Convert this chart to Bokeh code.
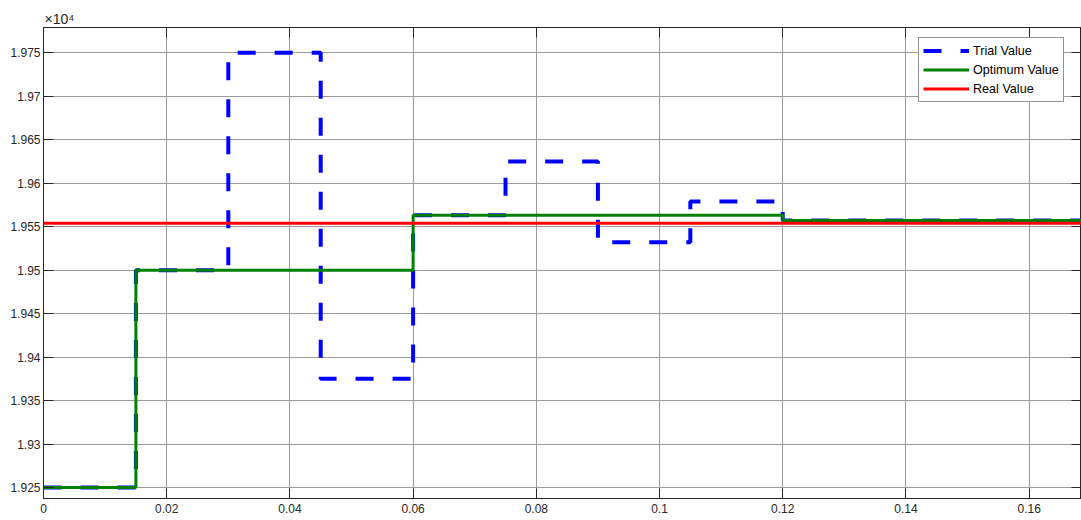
from bokeh.plotting import figure
from bokeh.models import Range1d, LinearAxis, FixedTicker, Legend, LegendItem
from bokeh.embed import file_html
from bokeh.resources import INLINE

# ---- data ----
trial_t = [0, 0.015, 0.03, 0.045, 0.06, 0.075, 0.09, 0.105, 0.12, 0.17]
trial_value = [19250, 19500, 19750, 19375, 19563, 19625, 19532, 19579, 19557, 19557]
optimum_t = [0, 0.015, 0.06, 0.12, 0.17]
optimum_value = [19250, 19500, 19563, 19557, 19557]
real_t = [0, 0.17]
real_value = [19554, 19554]

x_ticks = [0, 0.02, 0.04, 0.06, 0.08, 0.1, 0.12, 0.14, 0.16]
x_tick_labels = ["0", "0.02", "0.04", "0.06", "0.08", "0.1", "0.12", "0.14", "0.16"]
y_ticks = [19250, 19300, 19350, 19400, 19450, 19500, 19550, 19600, 19650, 19700, 19750]
y_tick_labels = ["1.925", "1.93", "1.935", "1.94", "1.945", "1.95", "1.955",
                 "1.96", "1.965", "1.97", "1.975"]

FONT = "Liberation Sans"
AXC = "#262626"

p = figure(width=1081, height=520, output_backend="svg", toolbar_location=None,
           x_range=Range1d(0, 0.1685), y_range=Range1d(19237.4, 19779),
           min_border_left=43, min_border_right=0, min_border_top=27, min_border_bottom=22)
p.background_fill_color = "white"
p.outline_line_color = AXC
p.outline_line_width = 1

p.title.text = "×10⁴"
p.title.text_font = FONT
p.title.text_font_size = "14px"
p.title.text_font_style = "normal"
p.title.text_color = AXC
p.title.align = "left"
p.title.offset = 1
p.title.standoff = 2

xt = FixedTicker(ticks=x_ticks)
yt = FixedTicker(ticks=y_ticks)

def style_axis(ax, ticker, ticks, labels):
    ax.ticker = ticker
    ax.axis_line_color = AXC
    ax.major_tick_line_color = AXC
    ax.major_tick_in = 10
    ax.major_tick_out = 0
    ax.minor_tick_line_color = None
    ax.major_label_text_font = FONT
    ax.major_label_text_color = AXC
    ax.major_label_text_font_size = "12px"
    ax.major_label_overrides = {t: s for t, s in zip(ticks, labels)}

style_axis(p.xaxis[0], xt, x_ticks, x_tick_labels)
p.xaxis[0].major_label_standoff = 5
style_axis(p.yaxis[0], yt, y_ticks, y_tick_labels)
p.yaxis[0].major_label_standoff = 3

top_ax = LinearAxis()
style_axis(top_ax, xt, x_ticks, [""] * len(x_ticks))
top_ax.major_label_standoff = 0
p.add_layout(top_ax, "above")
right_ax = LinearAxis()
style_axis(right_ax, yt, y_ticks, [""] * len(y_ticks))
right_ax.major_label_standoff = 0
p.add_layout(right_ax, "right")

p.xgrid.ticker = xt
p.ygrid.ticker = yt
for g in (p.xgrid[0], p.ygrid[0]):
    g.grid_line_color = "#9a9a9a"
    g.grid_line_width = 1

r_trial = p.step(trial_t, trial_value, mode="after", line_color="#0000ff",
                 line_width=4, line_dash="18 19")
r_opt = p.step(optimum_t, optimum_value, mode="after", line_color="#008000", line_width=3)
r_real = p.line(real_t, real_value, line_color="#ff0000", line_width=3)

legend = Legend(items=[LegendItem(label="Trial Value", renderers=[r_trial]),
                       LegendItem(label="Optimum Value", renderers=[r_opt]),
                       LegendItem(label="Real Value", renderers=[r_real])],
                location=(875, 396))
legend.label_text_font = FONT
legend.label_text_font_size = "12.6px"
legend.label_text_color = "#000000"
legend.glyph_width = 46
legend.glyph_height = 17
legend.label_height = 17
legend.label_standoff = 4
legend.spacing = 2
legend.padding = 4
legend.margin = 0
legend.border_line_color = AXC
legend.border_line_width = 1
legend.background_fill_alpha = 1
p.add_layout(legend)

open("out.html", "w").write(file_html(p, INLINE))
